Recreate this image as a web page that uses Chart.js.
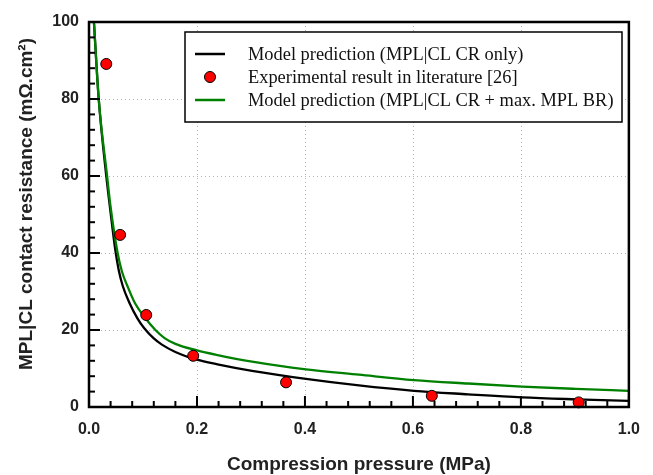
<!DOCTYPE html>
<html><head><meta charset="utf-8">
<script src="https://cdn.jsdelivr.net/npm/chart.js@4.4.0/dist/chart.umd.min.js"></script>
<style>html,body{margin:0;padding:0;background:#fff}#wrap{width:653px;height:475px}</style>
</head><body><div id="wrap"><canvas id="c" width="653" height="475"></canvas></div>
<script>
// ---- data ----
const seriesLabels = [
  'Model prediction (MPL|CL CR only)',
  'Experimental result in literature [26]',
  'Model prediction (MPL|CL CR + max. MPL BR)'
];
const blackX = [0.0091, 0.018, 0.032, 0.040, 0.0485, 0.055, 0.0624, 0.075, 0.0897, 0.102, 0.120, 0.135, 0.160, 0.200, 0.238, 0.302, 0.402, 0.500, 0.602, 0.702, 0.802, 0.902, 1.0];
const blackY = [100, 80, 60, 50.5, 41, 35.6, 31.5, 27, 23, 20.5, 17.8, 16.2, 14.3, 12.3, 11.1, 9.4, 7.3, 5.6, 4.2, 3.3, 2.5, 2.0, 1.6];
const expX = [0.032, 0.0576, 0.106, 0.193, 0.365, 0.635, 0.907];
const expY = [89.1, 44.7, 23.9, 13.3, 6.4, 2.9, 1.2];
const greenX = [0.0091, 0.018, 0.0335, 0.0395, 0.053, 0.061, 0.0715, 0.085, 0.102, 0.123, 0.140, 0.160, 0.200, 0.238, 0.302, 0.402, 0.500, 0.602, 0.702, 0.802, 0.902, 1.0];
const greenY = [100, 80, 60, 52.5, 40, 35.2, 31.3, 27, 23.5, 20, 17.9, 16.4, 14.7, 13.5, 11.8, 9.8, 8.4, 7.0, 6.1, 5.3, 4.7, 4.2];
const xTicks = [0, 0.2, 0.4, 0.6, 0.8, 1.0];
const yTicks = [0, 20, 40, 60, 80, 100];
const xTitle = 'Compression pressure (MPa)';
const yTitle = 'MPL|CL contact resistance (m\u03A9.cm\u00B2)';
const xMinorStep = 0.04;
const yMinorStep = 4;

const pts = (xs, ys) => xs.map((x, i) => ({x: x, y: ys[i]}));

const framePlugin = {
  id: 'frame',
  beforeDatasetsDraw(chart) {
    const {ctx, chartArea: a, scales: {x, y}} = chart;
    ctx.save();
    ctx.strokeStyle = '#b4b4b4';
    ctx.lineWidth = 1;
    ctx.setLineDash([1, 3]);
    xTicks.slice(1, -1).forEach(v => {
      const px = Math.round(x.getPixelForValue(v)) + 0.5;
      ctx.beginPath(); ctx.moveTo(px, a.top); ctx.lineTo(px, a.bottom); ctx.stroke();
    });
    yTicks.slice(1, -1).forEach(v => {
      const py = Math.round(y.getPixelForValue(v)) + 0.5;
      ctx.beginPath(); ctx.moveTo(a.left, py); ctx.lineTo(a.right, py); ctx.stroke();
    });
    ctx.restore();
  },
  afterDatasetsDraw(chart) {
    const {ctx, chartArea: a, scales: {x, y}} = chart;
    ctx.save();
    ctx.strokeStyle = '#000';
    ctx.lineWidth = 2;
    const nx = Math.round((x.max - x.min) / xMinorStep);
    for (let i = 0; i <= nx; i++) {
      const px = x.getPixelForValue(x.min + i * xMinorStep);
      const len = (i % 5 === 0) ? 11 : 6;
      ctx.beginPath(); ctx.moveTo(px, a.bottom); ctx.lineTo(px, a.bottom - len); ctx.stroke();
    }
    const ny = Math.round((y.max - y.min) / yMinorStep);
    for (let i = 0; i <= ny; i++) {
      const py = y.getPixelForValue(y.min + i * yMinorStep);
      const len = (i % 5 === 0) ? 11 : 6;
      ctx.beginPath(); ctx.moveTo(a.left, py); ctx.lineTo(a.left + len, py); ctx.stroke();
    }
    ctx.lineWidth = 2.5;
    ctx.strokeRect(a.left, a.top, a.right - a.left, a.bottom - a.top);
    ctx.restore();
  },
  afterDraw(chart) {
    const {ctx} = chart;
    ctx.save();
    const lx = 185, ly = 32, lw = 437, lh = 90;
    ctx.fillStyle = '#fff';
    ctx.fillRect(lx, ly, lw, lh);
    ctx.strokeStyle = '#000';
    ctx.lineWidth = 1.5;
    ctx.strokeRect(lx, ly, lw, lh);
    const rows = [54, 77, 100];
    const ds = chart.data.datasets;
    ctx.font = '18.4px "Liberation Serif", "Times New Roman", serif';
    ctx.textBaseline = 'middle';
    ctx.textAlign = 'left';
    rows.forEach((ry, i) => {
      const d = ds[i];
      if (d.showLine) {
        ctx.strokeStyle = d.borderColor;
        ctx.lineWidth = 2.5;
        ctx.beginPath(); ctx.moveTo(195, ry); ctx.lineTo(225, ry); ctx.stroke();
      } else {
        ctx.fillStyle = d.backgroundColor;
        ctx.strokeStyle = d.borderColor;
        ctx.lineWidth = 1;
        ctx.beginPath(); ctx.arc(210, ry, 5.5, 0, Math.PI * 2); ctx.fill(); ctx.stroke();
      }
      ctx.fillStyle = '#111';
      ctx.fillText(d.label, 248, ry + 1);
    });
    ctx.translate(27, 204);
    ctx.rotate(-Math.PI / 2);
    ctx.font = 'bold 19px "Liberation Sans", Arial, sans-serif';
    ctx.textAlign = 'center';
    ctx.fillStyle = '#222';
    ctx.fillText(yTitle, 0, 0);
    ctx.restore();
  }
};

const tickFont = {family: '"Liberation Sans", Arial, sans-serif', size: 16, weight: 'bold'};

new Chart(document.getElementById('c'), {
  type: 'scatter',
  data: {
    datasets: [
      {label: seriesLabels[0], data: pts(blackX, blackY), showLine: true, borderColor: '#000000', borderWidth: 2.3,
       pointRadius: 0, cubicInterpolationMode: 'monotone', order: 2},
      {label: seriesLabels[1], data: pts(expX, expY), showLine: false, backgroundColor: '#ff0000', borderColor: '#000000',
       borderWidth: 1, pointRadius: 5.5, order: 0, clip: false},
      {label: seriesLabels[2], data: pts(greenX, greenY), showLine: true, borderColor: '#008000', borderWidth: 2.3,
       pointRadius: 0, cubicInterpolationMode: 'monotone', order: 1}
    ]
  },
  options: {
    responsive: false, animation: false, devicePixelRatio: 1,
    layout: {padding: {top: 22, right: 13, left: 0, bottom: 0}},
    plugins: {legend: {display: false}, tooltip: {enabled: false}},
    scales: {
      x: {
        type: 'linear', min: 0, max: 1,
        afterFit: s => { s.height = 68; },
        afterBuildTicks: s => { s.ticks = xTicks.map(v => ({value: v})); },
        grid: {display: false, drawTicks: false}, border: {display: false},
        ticks: {font: tickFont, color: '#222', padding: 13, maxRotation: 0, callback: v => Number(v).toFixed(1)},
        title: {display: true, text: xTitle, font: {family: '"Liberation Sans", Arial, sans-serif', size: 19, weight: 'bold'},
                color: '#222', padding: {top: 0, bottom: -1}}
      },
      y: {
        type: 'linear', min: 0, max: 100,
        afterFit: s => { s.width = 89; },
        afterBuildTicks: s => { s.ticks = yTicks.map(v => ({value: v})); },
        grid: {display: false, drawTicks: false}, border: {display: false},
        ticks: {font: tickFont, color: '#222', padding: 10, callback: v => String(v)}
      }
    }
  },
  plugins: [framePlugin]
});
</script></body></html>
